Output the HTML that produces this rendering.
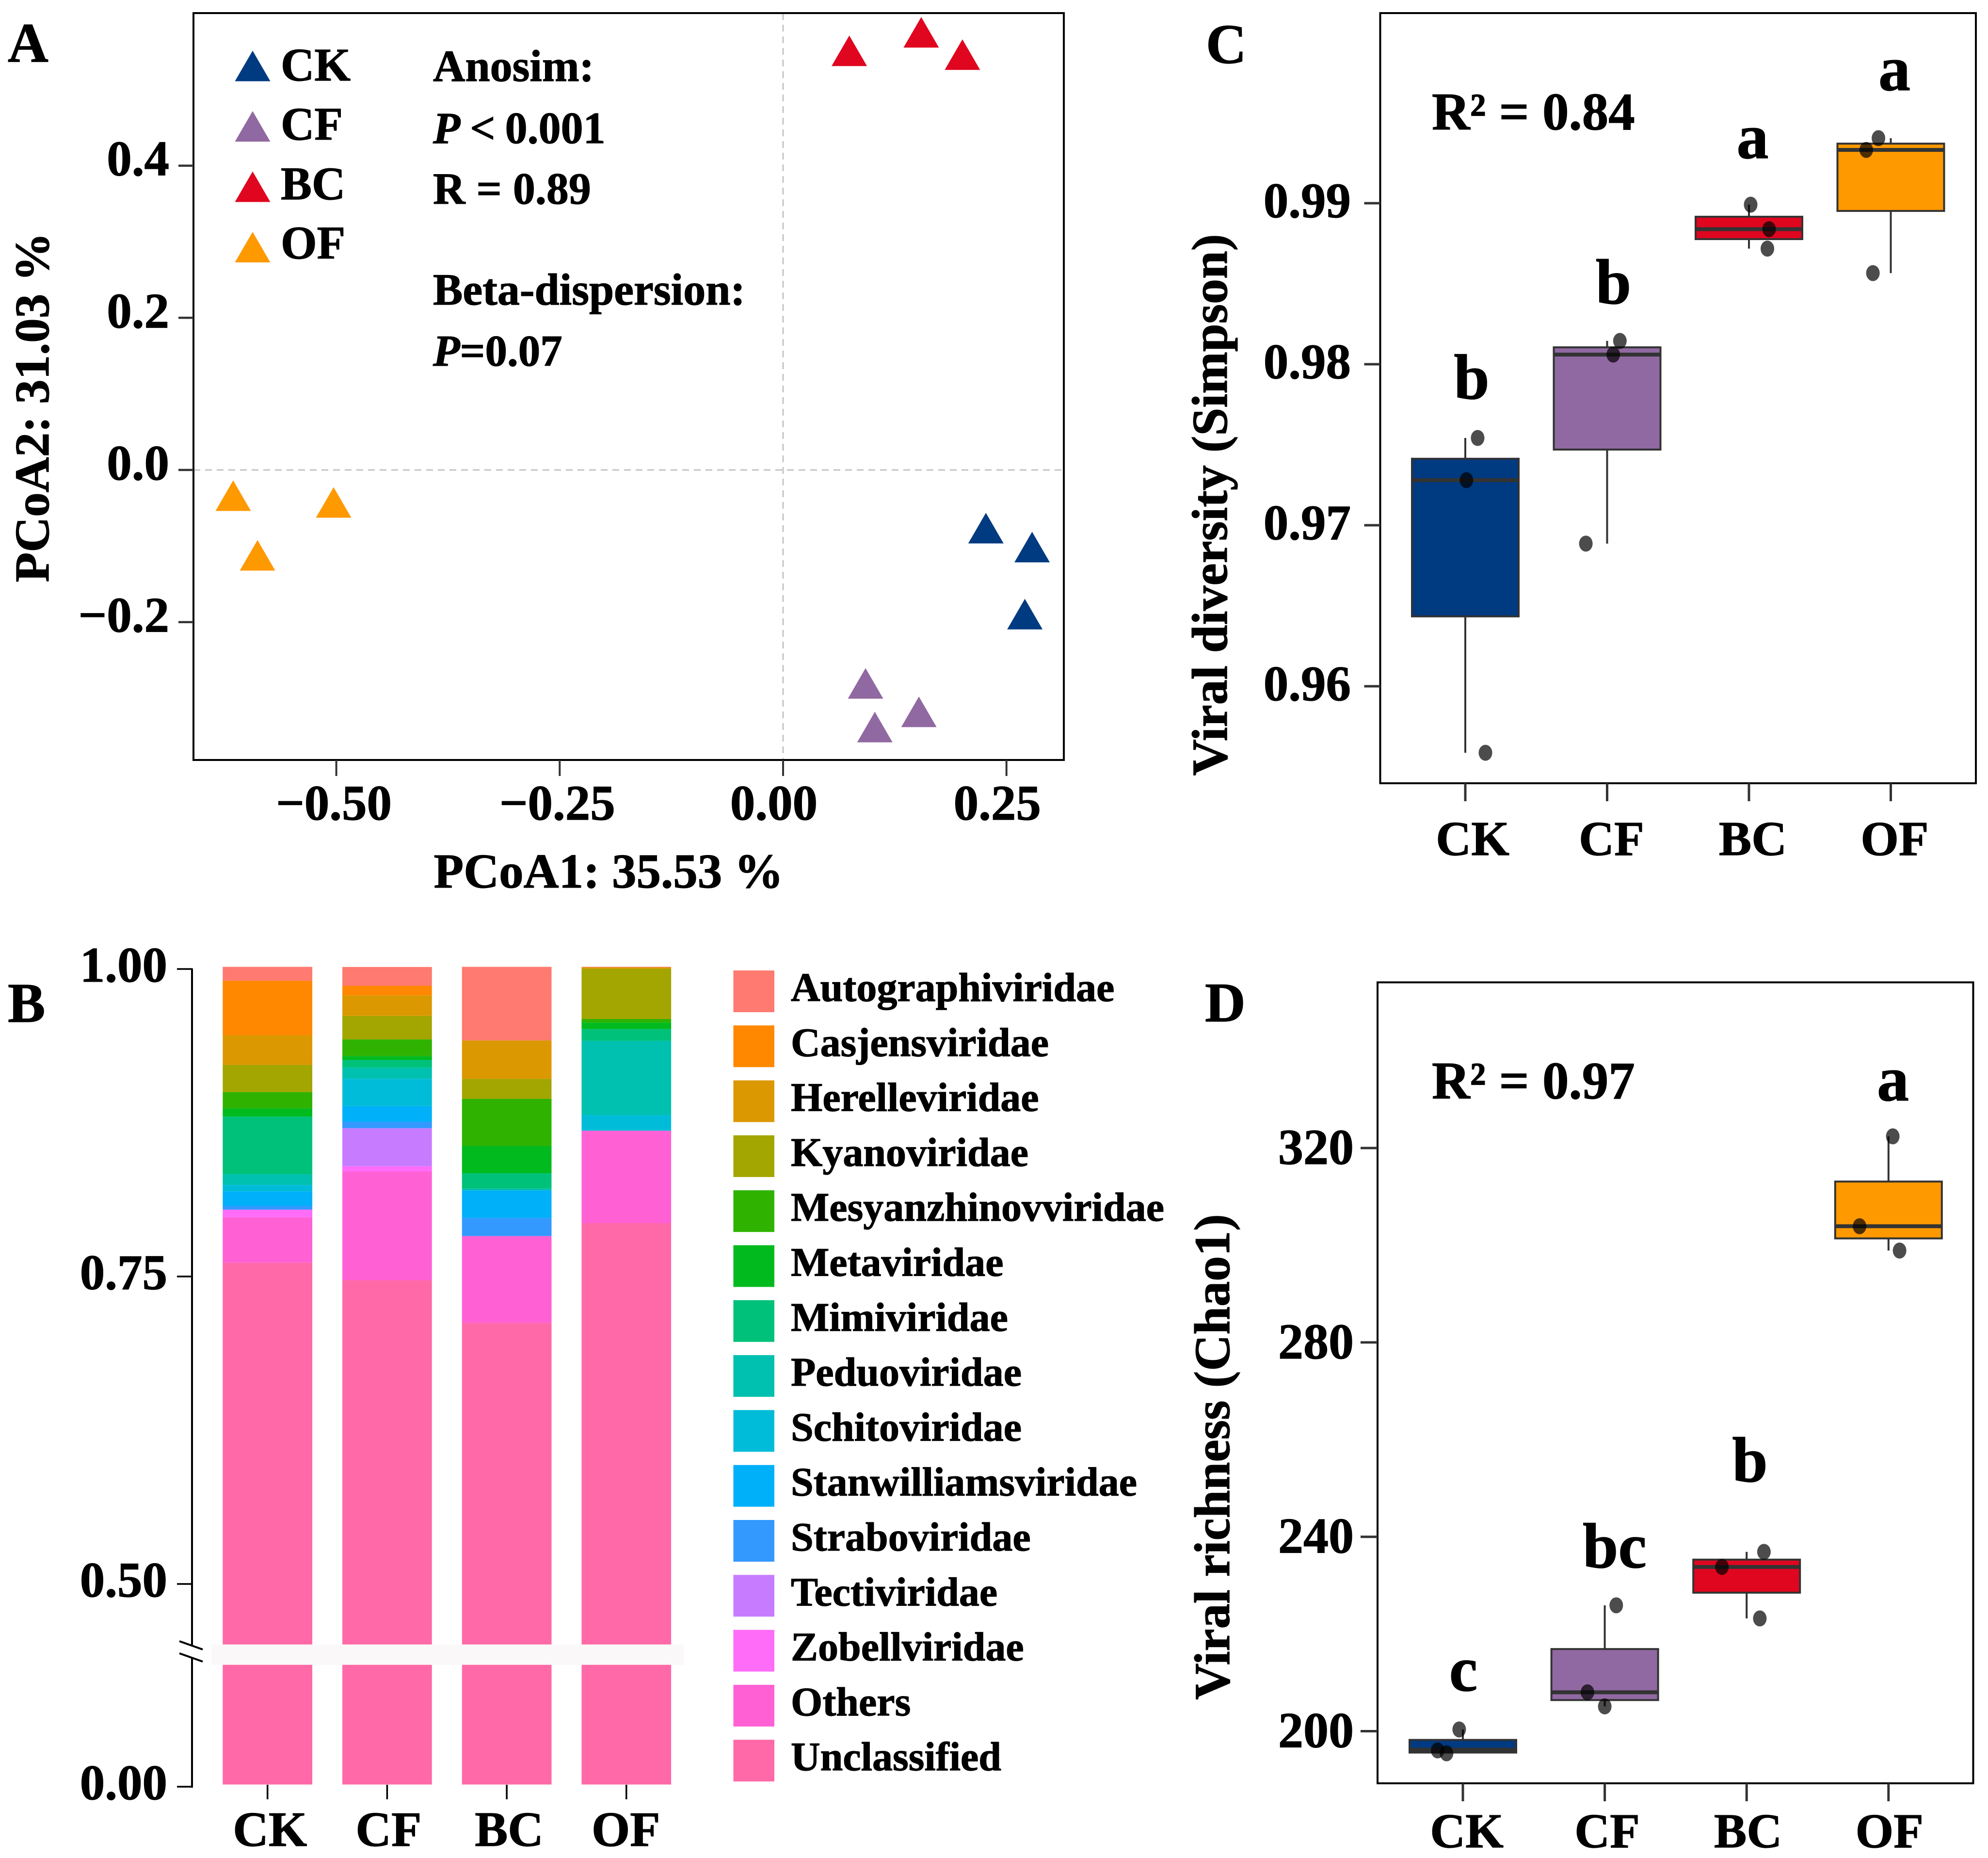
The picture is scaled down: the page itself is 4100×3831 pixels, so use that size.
<!DOCTYPE html>
<html lang="en">
<head>
<meta charset="utf-8">
<title>Viral community composition and diversity</title>
<style>
html,body{margin:0;padding:0;background:#fff;}
svg{display:block;}
text{font-family:"Liberation Serif","Times New Roman",serif;font-weight:bold;fill:#000;stroke:#000;stroke-width:1.2px;}
</style>
</head>
<body>
<svg id="figure" xmlns="http://www.w3.org/2000/svg" width="4100" height="3831" viewBox="0 0 4100 3831">
<rect x="0" y="0" width="4100" height="3831" fill="#fff"/>
<g id="panelA">
  <text x="16" y="127" font-size="116">A</text>
  <line x1="1615" y1="27" x2="1615" y2="1567" stroke="#c4c4c4" stroke-width="3" stroke-dasharray="14 10"/>
  <line x1="399" y1="969" x2="2194" y2="969" stroke="#c4c4c4" stroke-width="3" stroke-dasharray="14 10"/>
  <rect x="399" y="27" width="1795" height="1540" fill="none" stroke="#000" stroke-width="4"/>
  <text x="1255" y="1830" font-size="101" text-anchor="middle">PCoA1: 35.53 %</text>
  <text transform="translate(100,840) rotate(-90)" font-size="101" text-anchor="middle">PCoA2: 31.03 %</text>
  <polygon points="521,104.5 484.5,167.5 557.5,167.5" fill="#003A80"/>
  <polygon points="521,229 484.5,292 557.5,292" fill="#9169A2"/>
  <polygon points="521,353.5 484.5,416.5 557.5,416.5" fill="#E0061F"/>
  <polygon points="521,478 484.5,541 557.5,541" fill="#FF9900"/>
  <text x="579" y="166" font-size="96">CK</text>
  <text x="579" y="288" font-size="96">CF</text>
  <text x="579" y="411" font-size="96">BC</text>
  <text x="579" y="533" font-size="96">OF</text>
  <text x="893" y="167" font-size="92">Anosim:</text>
  <text x="893" y="295" font-size="92" word-spacing="-3"><tspan font-style="italic">P</tspan> &lt; 0.001</text>
  <text x="893" y="420" font-size="92">R = 0.89</text>
  <text x="893" y="628" font-size="92">Beta-dispersion:</text>
  <text x="893" y="754" font-size="91"><tspan font-style="italic">P</tspan>=0.07</text>
</g>
<g id="panelB">
  <text x="16" y="2107" font-size="116">B</text>
</g>
<g id="panelC">
  <text x="2487" y="130" font-size="116">C</text>
  <rect x="2846.5" y="27" width="1228.5" height="1588" fill="none" stroke="#000" stroke-width="4"/>
  <text x="2953" y="267" font-size="109">R² = 0.84</text>
  <text transform="translate(2530,1041) rotate(-90)" font-size="104" text-anchor="middle">Viral diversity (Simpson)</text>
</g>
<g id="panelD">
  <text x="2485" y="2106" font-size="116">D</text>
  <rect x="2841" y="2025.5" width="1228.5" height="1651.5" fill="none" stroke="#000" stroke-width="4"/>
  <text x="2953" y="2265" font-size="109">R² = 0.97</text>
  <text transform="translate(2535,3004) rotate(-90)" font-size="104" text-anchor="middle">Viral richness (Chao1)</text>
</g>
</svg>
<script>
// ---------- shared categories ----------
const groups = ['CK', 'CF', 'BC', 'OF'];
const groupColors = ['#003A80', '#9169A2', '#E0061F', '#FF9900'];

// ---------- panel A: PCoA ----------
const pcoaXTicks = [-0.5, -0.25, 0, 0.25];
const pcoaXTickLabels = ['−0.50', '−0.25', '0.00', '0.25'];
const pcoaYTicks = [0.4, 0.2, 0, -0.2];
const pcoaYTickLabels = ['0.4', '0.2', '0.0', '−0.2'];
const pcoa1CK = [0.227, 0.2787, 0.2706];
const pcoa2CK = [-0.0765, -0.1014, -0.1895];
const pcoa1CF = [0.0923, 0.152, 0.1027];
const pcoa2CF = [-0.2806, -0.318, -0.338];
const pcoa1BC = [0.0741, 0.1546, 0.2007];
const pcoa2BC = [0.551, 0.5753, 0.546];
const pcoa1OF = [-0.6154, -0.503, -0.5882];
const pcoa2OF = [-0.0338, -0.0427, -0.1122];

// ---------- panel B: stacked composition ----------
const barTicks = [1, 0.75, 0.5, 0];
const barTickLabels = ['1.00', '0.75', '0.50', '0.00'];
const families = ['Autographiviridae', 'Casjensviridae', 'Herelleviridae', 'Kyanoviridae', 'Mesyanzhinovviridae', 'Metaviridae', 'Mimiviridae', 'Peduoviridae', 'Schitoviridae', 'Stanwilliamsviridae', 'Straboviridae', 'Tectiviridae', 'Zobellviridae', 'Others', 'Unclassified'];
const familyColors = ['#FF7A70', '#FF8800', '#DB9800', '#A3A500', '#2FB200', '#00BA1E', '#00C17A', '#00C0AF', '#00BCD8', '#00B0F9', '#3399FF', '#C77CFF', '#FF6CF8', '#FF61D5', '#FF69A8'];
const autographiviridae = [0.0113, 0.0153, 0.0598, 0.0004];
const casjensviridae = [0.0443, 0.0078, 0, 0];
const herelleviridae = [0.0241, 0.0167, 0.0312, 0.0012];
const kyanoviridae = [0.0221, 0.0191, 0.0163, 0.0408];
const mesyanzhinovviridae = [0.0133, 0.0135, 0.0384, 0.0028];
const metaviridae = [0.0066, 0.0032, 0.0221, 0.0054];
const mimiviridae = [0.0469, 0.0062, 0.0125, 0.0095];
const peduoviridae = [0.0087, 0.0091, 0.0014, 0.0604];
const schitoviridae = [0.0052, 0.0223, 0, 0.0127];
const stanwilliamsviridae = [0.0119, 0.0127, 0.0225, 0];
const straboviridae = [0.003, 0.0052, 0.0147, 0];
const tectiviridae = [0, 0.031, 0, 0];
const zobellviridae = [0.0062, 0.0042, 0, 0];
const others = [0.037, 0.0883, 0.0706, 0.0752];
const unclassified = [0.7594, 0.7453, 0.7105, 0.7916];
const familySeries = [autographiviridae, casjensviridae, herelleviridae, kyanoviridae, mesyanzhinovviridae, metaviridae, mimiviridae, peduoviridae, schitoviridae, stanwilliamsviridae, straboviridae, tectiviridae, zobellviridae, others, unclassified];

// ---------- panel C: Simpson ----------
const simpsonTicks = [0.99, 0.98, 0.97, 0.96];
const simpsonTickLabels = ['0.99', '0.98', '0.97', '0.96'];
const simpsonWhiskerHigh = [0.97542, 0.98145, 0.98991, 0.99404];
const simpsonQ3 = [0.97413, 0.98105, 0.98916, 0.9937];
const simpsonMedian = [0.9728, 0.9806, 0.98839, 0.99331];
const simpsonQ1 = [0.96434, 0.9747, 0.98777, 0.98952];
const simpsonWhiskerLow = [0.95587, 0.96886, 0.98718, 0.98566];
const simpsonPointsCK = [0.97542, 0.9728, 0.95587];
const simpsonPointsCF = [0.98145, 0.9806, 0.96886];
const simpsonPointsBC = [0.98991, 0.98839, 0.98718];
const simpsonPointsOF = [0.99404, 0.99331, 0.98566];
const simpsonJitterCK = [0.087, 0.008, 0.142];
const simpsonJitterCF = [0.09, 0.043, -0.15];
const simpsonJitterBC = [0.012, 0.142, 0.13];
const simpsonJitterOF = [-0.087, -0.173, -0.126];
const simpsonLetters = ['b', 'b', 'a', 'a'];

// ---------- panel D: Chao1 ----------
const chaoTicks = [320, 280, 240, 200];
const chaoTickLabels = ['320', '280', '240', '200'];
const chaoWhiskerHigh = [200.35, 225.9, 236.9, 322.4];
const chaoQ3 = [198.2, 216.9, 235.3, 313.1];
const chaoMedian = [196.2, 208, 233.8, 303.9];
const chaoQ1 = [195.6, 206.4, 228.5, 301.4];
const chaoWhiskerLow = [195.45, 205.1, 223.2, 298.9];
const chaoPointsCK = [200.35, 196.05, 195.45];
const chaoPointsCF = [225.9, 208, 205.1];
const chaoPointsBC = [236.9, 233.8, 223.2];
const chaoPointsOF = [322.4, 303.9, 298.9];
const chaoJitterCK = [-0.026, -0.178, -0.115];
const chaoJitterCF = [0.081, -0.122, 0];
const chaoJitterBC = [0.122, -0.174, 0.093];
const chaoJitterOF = [0.03, -0.204, 0.078];
const chaoLetters = ['c', 'bc', 'b', 'a'];

const NS = 'http://www.w3.org/2000/svg';
function mk(parent, tag, attrs, content) {
  const el = document.createElementNS(NS, tag);
  for (const k in attrs) el.setAttribute(k, attrs[k]);
  if (content !== undefined) el.textContent = content;
  parent.appendChild(el);
  return el;
}

// ---------- draw panel A ----------
(function () {
  const g = document.getElementById('panelA');
  const x = v => 1615 + v / 0.25 * 460.7;
  const y = v => 969 - v / 0.2 * 313.7;
  pcoaXTicks.forEach((v, i) => {
    const tick = mk(g, 'line', { x1: x(v), y1: 1567, x2: x(v), y2: 1600, stroke: '#333', 'stroke-width': 4 });
    
    
    const label = mk(g, 'text', { x: x(v) + (v < 0 ? -5 : -19), y: 1690, 'font-size': 103, 'text-anchor': 'middle' }, pcoaXTickLabels[i]);
    
    
  });
  pcoaYTicks.forEach((v, i) => {
    const tick = mk(g, 'line', { x1: 368, y1: y(v), x2: 399, y2: y(v), stroke: '#333', 'stroke-width': 4.5 });
    
    
    const label = mk(g, 'text', { x: 349, y: y(v) + 20, 'font-size': 103, 'text-anchor': 'end' }, pcoaYTickLabels[i]);
    
    
  });
  const xs = [pcoa1CK, pcoa1CF, pcoa1BC, pcoa1OF];
  const ys = [pcoa2CK, pcoa2CF, pcoa2BC, pcoa2OF];
  groups.forEach((name, gi) => {
    xs[gi].forEach((vx, i) => {
      const cx = x(vx), cy = y(ys[gi][i]);
      const tri = mk(g, 'polygon', { points: cx + ',' + (cy - 31.5) + ' ' + (cx - 36.5) + ',' + (cy + 31.5) + ' ' + (cx + 36.5) + ',' + (cy + 31.5), fill: groupColors[gi] });
      
      
    });
  });
})();

// ---------- draw panel B ----------
(function () {
  const g = document.getElementById('panelB');
  const yBar = v => v >= 0.451 ? 1993.5 + (1 - v) * 2536 : 3679.5 - v / 0.4 * 247;
  const tickNudge = 4.5;
  const barX = i => 551.7 + i * 246.7;
  const barW = 184.7;
  const xLabelDx = [5, 3, 5, -1];
  groups.forEach((name, gi) => {
    let base = 0;
    for (let s = familySeries.length - 1; s >= 0; s--) {
      const val = familySeries[s][gi];
      if (val <= 0) continue;
      const top = base + val;
      const seg = mk(g, 'rect', { x: barX(gi) - barW / 2, y: yBar(top), width: barW, height: yBar(base) - yBar(top), fill: familyColors[s] });
      
      
      base = top;
    }
    const tick = mk(g, 'line', { x1: barX(gi), y1: 3680, x2: barX(gi), y2: 3710, stroke: '#000', 'stroke-width': 3.5 });
    
    
    const label = mk(g, 'text', { x: barX(gi) + xLabelDx[gi], y: 3806, 'font-size': 102, 'text-anchor': 'middle' }, name);
    
    
  });
  const band = mk(g, 'rect', { x: 436, y: 3390.7, width: 975, height: 42, fill: '#FAF8F8' });
  
  
  const axisUpper = mk(g, 'line', { x1: 396, y1: 1997, x2: 396, y2: 3392, stroke: '#000', 'stroke-width': 4 });
  
  
  const axisLower = mk(g, 'line', { x1: 396, y1: 3417, x2: 396, y2: 3686, stroke: '#000', 'stroke-width': 4 });
  
  
  const slashA = mk(g, 'line', { x1: 370, y1: 3384, x2: 418, y2: 3401, stroke: '#000', 'stroke-width': 4 });
  
  
  const slashB = mk(g, 'line', { x1: 370, y1: 3409, x2: 418, y2: 3426, stroke: '#000', 'stroke-width': 4 });
  
  
  barTicks.forEach((v, i) => {
    const ty = yBar(v) + tickNudge;
    const tick = mk(g, 'line', { x1: 365, y1: ty, x2: 397, y2: ty, stroke: '#000', 'stroke-width': 3.5 });
    
    
    const label = mk(g, 'text', { x: 345, y: ty + 26, 'font-size': 103, 'text-anchor': 'end' }, barTickLabels[i]);
    
    
  });
  families.forEach((name, i) => {
    const top = 2001 + i * 113.3;
    const sw = mk(g, 'rect', { x: 1512.5, y: top, width: 84.5, height: 86, fill: familyColors[i] });
    
    
    const label = mk(g, 'text', { x: 1631, y: top + 63, 'font-size': 84 }, name);
    
    
  });
})();

// ---------- shared box-plot drawing ----------
function drawBoxes(g, prefix, cfg) {
  const x = i => cfg.x0 + i * cfg.step;
  cfg.ticks.forEach((v, i) => {
    const tick = mk(g, 'line', { x1: cfg.frameLeft - cfg.tickLen, y1: cfg.y(v), x2: cfg.frameLeft, y2: cfg.y(v), stroke: '#333', 'stroke-width': 5 });
    
    
    const label = mk(g, 'text', { x: cfg.labelRight, y: cfg.y(v) + cfg.labelDy, 'font-size': cfg.tickFont, 'text-anchor': 'end' }, cfg.tickLabels[i]);
    
    
  });
  groups.forEach((name, i) => {
    const cx = x(i);
    const tick = mk(g, 'line', { x1: cx, y1: cfg.frameBottom, x2: cx, y2: cfg.frameBottom + 37, stroke: '#333', 'stroke-width': 5 });
    
    
    const label = mk(g, 'text', { x: cx + cfg.xLabelDx[i], y: cfg.xLabelY, 'font-size': 101, 'text-anchor': 'middle' }, name);
    
    
    const whisker = mk(g, 'line', { x1: cx, y1: cfg.y(cfg.whiskerHigh[i]), x2: cx, y2: cfg.y(cfg.whiskerLow[i]), stroke: '#333', 'stroke-width': 4 });
    
    
    const box = mk(g, 'rect', { x: cx - 110, y: cfg.y(cfg.q3[i]), width: 220, height: cfg.y(cfg.q1[i]) - cfg.y(cfg.q3[i]), fill: groupColors[i], stroke: '#333', 'stroke-width': 4 });
    
    
    const med = mk(g, 'line', { x1: cx - 110, y1: cfg.y(cfg.median[i]), x2: cx + 110, y2: cfg.y(cfg.median[i]), stroke: '#333', 'stroke-width': 8 });
    
    
    cfg.points[i].forEach((val, k) => {
      const pt = mk(g, 'ellipse', { cx: cx + cfg.jitter[i][k] * cfg.step, cy: cfg.y(val), rx: 14, ry: 16.5, fill: '#000', 'fill-opacity': 0.7 });
      
      
    });
    const letter = mk(g, 'text', { x: cfg.letterX(i), y: cfg.y(cfg.letterAnchor[i]) + cfg.letterDy[i], 'font-size': 132, 'text-anchor': 'middle' }, cfg.letters[i]);
    
    
  });
}

// ---------- draw panels C and D ----------
drawBoxes(document.getElementById('panelC'), 'simpson', {
  y: v => 1415 - (v - 0.96) * 33200,
  x0: 3022, step: 292.5, frameLeft: 2846.5, frameBottom: 1615, tickLen: 33, labelRight: 2786, labelDy: 29, tickFont: 103,
  xLabelY: 1763, xLabelDx: [15, 9, 8, 8],
  ticks: simpsonTicks, tickLabels: simpsonTickLabels,
  whiskerHigh: simpsonWhiskerHigh, q3: simpsonQ3, median: simpsonMedian, q1: simpsonQ1, whiskerLow: simpsonWhiskerLow,
  points: [simpsonPointsCK, simpsonPointsCF, simpsonPointsBC, simpsonPointsOF],
  jitter: [simpsonJitterCK, simpsonJitterCF, simpsonJitterBC, simpsonJitterOF],
  letters: simpsonLetters,
  letterX: i => [3035, 3327.5, 3614.5, 3907][i],
  letterAnchor: simpsonWhiskerHigh,
  letterDy: [-81, -77, -96, -99]
});
drawBoxes(document.getElementById('panelD'), 'chao1', {
  y: v => 3569.5 - (v - 200) * 10.02,
  x0: 3017, step: 292.6, frameLeft: 2841, frameBottom: 3677, tickLen: 35, labelRight: 2792, labelDy: 33, tickFont: 104,
  xLabelY: 3809, xLabelDx: [8, 5, 3, 2],
  ticks: chaoTicks, tickLabels: chaoTickLabels,
  whiskerHigh: chaoWhiskerHigh, q3: chaoQ3, median: chaoMedian, q1: chaoQ1, whiskerLow: chaoWhiskerLow,
  points: [chaoPointsCK, chaoPointsCF, chaoPointsBC, chaoPointsOF],
  jitter: [chaoJitterCK, chaoJitterCF, chaoJitterBC, chaoJitterOF],
  letters: chaoLetters,
  letterX: i => [3018, 3330, 3609, 3904][i],
  letterAnchor: chaoWhiskerHigh,
  letterDy: [-80, -78, -145, -74]
});
</script>
</body>
</html>
